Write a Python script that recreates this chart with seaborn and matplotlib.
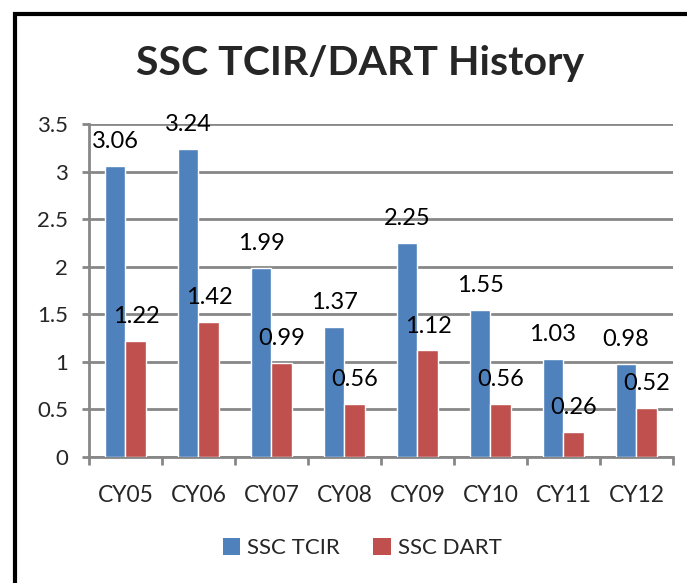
import pandas as pd
import numpy as np
import seaborn as sns
import matplotlib.pyplot as plt
from matplotlib.patches import Patch, Rectangle


# data
years = ['CY05', 'CY06', 'CY07', 'CY08', 'CY09', 'CY10', 'CY11', 'CY12']
tcir = [3.06, 3.24, 1.99, 1.37, 2.25, 1.55, 1.03, 0.98]
dart = [1.22, 1.42, 0.99, 0.56, 1.12, 0.56, 0.26, 0.52]
series = ['SSC TCIR', 'SSC DART']
colors = ['#4F81BD', '#C0504D']
yticks = [0, 0.5, 1, 1.5, 2, 2.5, 3, 3.5]
ytick_labels = ['0', '0.5', '1', '1.5', '2', '2.5', '3', '3.5']

df = pd.DataFrame({
    'year': years * 2,
    'value': tcir + dart,
    'series': [series[0]] * len(years) + [series[1]] * len(years),
})

sns.set_style('white')
plt.rcParams['font.family'] = ['Lato', 'DejaVu Sans']

fig = plt.figure(figsize=(6.87, 5.83), dpi=100)
ax = fig.add_axes([89 / 687, 1 - 457 / 583, (673 - 89) / 687, (457 - 124) / 583])

sns.barplot(data=df, x='year', y='value', hue='series', palette=colors,
            width=0.575, saturation=1, ax=ax, legend=False, zorder=3)

for cont in ax.containers:
    ax.bar_label(cont, fmt='%.2f', padding=10, fontsize=17, color='black')

grey = '#878787'
ax.set_ylim(0, 3.5)
ax.set_xlim(-0.5, len(years) - 0.5)
ax.set_yticks(yticks)
ax.set_yticklabels(ytick_labels, fontsize=16)
ax.yaxis.grid(True, color=grey, linewidth=2, zorder=0)
ax.set_axisbelow(True)
ax.tick_params(axis='y', length=5, width=2, color=grey, pad=10, left=True)

# category labels at centres, tick marks between the groups
ax.set_xticks(range(len(years)))
ax.set_xticklabels(years, fontsize=16.5)
ax.set_xticks(np.arange(-0.5, len(years)), minor=True)
ax.tick_params(axis='x', which='major', length=0, pad=20)
ax.tick_params(axis='x', which='minor', length=6, width=2, color=grey, bottom=True)
ax.set_xlabel('')
ax.set_ylabel('')

for side in ['top', 'right']:
    ax.spines[side].set_visible(False)
for side in ['left', 'bottom']:
    ax.spines[side].set_color(grey)
    ax.spines[side].set_linewidth(2)

fig.text(360 / 687, 1 - 64 / 583, 'SSC TCIR/DART History', ha='center', va='center',
         fontsize=29.5, fontweight='bold')

handles = [Patch(facecolor=c, edgecolor='none', label=s) for s, c in zip(series, colors)]
fig.legend(handles=handles, loc='center', bbox_to_anchor=(362 / 687, 1 - 548 / 583),
           ncol=2, frameon=False, fontsize=16, handlelength=0.8, handleheight=0.8,
           handletextpad=0.3, columnspacing=1.5)

# outer frame (only top and left edges fall inside the picture)
fig.patches.append(Rectangle((14.5 / 687, -0.2), 1.2, 1.2 - 13.5 / 583, transform=fig.transFigure,
                             fill=False, edgecolor='black', linewidth=3))

fig.savefig('out.png', dpi=100)
